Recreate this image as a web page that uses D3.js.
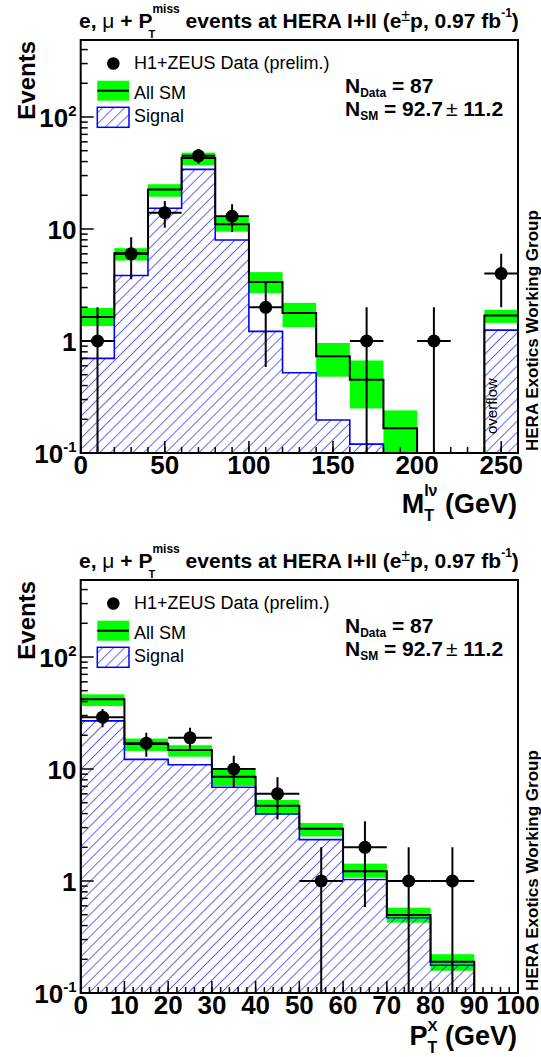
<!DOCTYPE html>
<html>
<head>
<meta charset="utf-8">
<script src="https://cdn.jsdelivr.net/npm/d3@7"></script>
<style>
  body { margin: 0; background: #fff; }
  svg { display: block; font-family: "Liberation Sans", Arial, Helvetica, sans-serif; }
  text { white-space: pre; }
</style>
</head>
<body>
<svg id="canvas" width="541" height="1057"></svg>
<script>
// ---- M_T (lepton-neutrino transverse mass), 20 GeV bins, last bin = overflow
const mtEdges = [0, 20, 40, 60, 80, 100, 120, 140, 160, 180, 200, 220, 240, 260];
const mtSM = [1.64, 6.08, 22.5, 43.0, 11.0, 3.36, 1.78, 0.73, 0.45, 0.166, 0, 0, 1.69];
const mtSMLow = [1.36, 5.23, 19.4, 37.1, 9.46, 2.68, 1.33, 0.48, 0.25, 0.09, 0, 0, 1.45];
const mtSMHigh = [1.97, 6.74, 25.1, 48.1, 12.7, 4.12, 2.19, 0.96, 0.67, 0.24, 0, 0, 1.9];
const mtSignal = [0.70, 3.85, 15.3, 34.1, 7.98, 1.22, 0.52, 0.197, 0.12, 0, 0, 0, 1.25];
const mtData = [1, 6, 14, 45, 13, 2, 0, 0, 1, 0, 1, 0, 4];
const mtMajorTicks = [0, 50, 100, 150, 200, 250];

// ---- P_T^X (hadronic transverse momentum), 10 GeV bins
const ptEdges = [0, 10, 20, 30, 40, 50, 60, 70, 80, 90];
const ptSM = [41.9, 16.7, 14.8, 8.54, 4.69, 2.93, 1.22, 0.497, 0.19];
const ptSMLow = [36.5, 14.5, 12.9, 7.06, 3.9, 2.5, 1.07, 0.425, 0.158];
const ptSMHigh = [46.4, 18.7, 16.3, 9.8, 5.3, 3.29, 1.43, 0.578, 0.222];
const ptSignal = [26.9, 12.2, 10.9, 6.88, 3.96, 2.34, 1.03, 0.47, 0.177];
const ptData = [29, 17, 19, 10, 6, 1, 2, 1, 1];
const ptMajorTicks = [0, 10, 20, 30, 40, 50, 60, 70, 80, 90, 100];

const yDomain = [0.1, 487];
const yLabels = [
  { v: 0.1, base: '10', sup: '-1' },
  { v: 1, base: '1', sup: '' },
  { v: 10, base: '10', sup: '' },
  { v: 100, base: '10', sup: '2' },
];

const TINY = 0.01;
const GREEN = '#00ff00';
const BLUE = '#0000ff';

const svg = d3.select('#canvas');

// hatch for the signal histogram
svg.append('defs').append('pattern')
  .attr('id', 'hatch')
  .attr('patternUnits', 'userSpaceOnUse')
  .attr('width', 7.8)
  .attr('height', 7.8)
  .attr('patternTransform', 'rotate(45)')
  .append('line')
  .attr('x1', 0).attr('y1', 0)
  .attr('x2', 0).attr('y2', 7.8)
  .attr('stroke', BLUE)
  .attr('stroke-width', 1.2);

// draws a run of text pieces (sub/superscripts) one after another
function richText(parent, x, y, parts, anchor = 'start') {
  const g = parent.append('g');
  let cursor = 0;
  let lastStart = 0;
  parts.forEach((p) => {
    const start = (p.stack ? lastStart : cursor) + (p.dx || 0);
    const t = g.append('text')
      .attr('x', start)
      .attr('y', p.dy || 0)
      .attr('font-size', p.size)
      .attr('font-weight', p.weight || 'bold')
      .attr('fill', '#000')
      .text(p.text);
    const w = t.node().getComputedTextLength();
    if (!p.stack) lastStart = start;
    cursor = Math.max(cursor, start + w);
  });
  let shift = 0;
  if (anchor === 'end') shift = -cursor;
  if (anchor === 'middle') shift = -cursor / 2;
  g.attr('transform', `translate(${x + shift},${y})`);
  return g;
}

function titleParts() {
  return [
    { text: 'e, ', size: 21 },
    { text: 'μ', size: 21, weight: 'normal' },
    { text: ' + P', size: 21 },
    { text: 'miss', size: 12, dy: -15 },
    { text: 'T', size: 11, dy: 10, stack: true, dx: -4 },
    { text: ' events at HERA I+II (e', size: 21 },
    { text: '±', size: 16, weight: 'normal', dy: -7 },
    { text: 'p, 0.97 fb', size: 21 },
    { text: '-1', size: 12, dy: -11 },
    { text: ')', size: 21 },
  ];
}

function drawPanel(cfg) {
  const top = cfg.offset + 40;
  const bottom = cfg.offset + 453;
  const left = 80.7;
  const right = 518;
  const n = cfg.sm.length;

  const x = d3.scaleLinear().domain(cfg.xDomain).range([left, right]);
  const y = d3.scaleLog().domain(yDomain).range([bottom, top]);
  const yv = v => y(Math.max(v, TINY));

  const g = svg.append('g');
  const clipId = `clip-${cfg.name}`;
  g.append('clipPath').attr('id', clipId)
    .append('rect')
    .attr('x', left).attr('y', top)
    .attr('width', right - left).attr('height', bottom - top);

  const plot = g.append('g').attr('clip-path', `url(#${clipId})`);
  const bins = d3.range(n).map(i => ({
    lo: cfg.edges[i],
    hi: cfg.edges[i + 1],
    sm: cfg.sm[i],
    smLo: cfg.smLow[i],
    smHi: cfg.smHigh[i],
    sig: cfg.signal[i],
    data: cfg.data[i],
  }));

  // SM uncertainty band
  plot.selectAll('.band')
    .data(bins.filter(d => d.smHi > 0))
    .enter().append('rect')
    .attr('class', 'band')
    .attr('x', d => x(d.lo))
    .attr('width', d => x(d.hi) - x(d.lo))
    .attr('y', d => yv(d.smHi))
    .attr('height', d => yv(d.smLo) - yv(d.smHi))
    .attr('fill', GREEN);

  const stepPoints = key => [
    { x: bins[0].lo, v: TINY },
    ...bins.map(d => ({ x: d.lo, v: d[key] })),
    { x: bins[n - 1].hi, v: bins[n - 1][key] },
    { x: bins[n - 1].hi, v: TINY },
  ];

  // signal: hatched area + blue outline
  const sigArea = d3.area()
    .curve(d3.curveStepAfter)
    .x(d => x(d.x))
    .y0(bottom + 5)
    .y1(d => yv(d.v));
  plot.append('path')
    .datum(stepPoints('sig'))
    .attr('d', sigArea)
    .attr('fill', 'url(#hatch)');

  const stepLine = d3.line()
    .curve(d3.curveStepAfter)
    .x(d => x(d.x))
    .y(d => yv(d.v));
  plot.append('path')
    .datum(stepPoints('sig'))
    .attr('d', stepLine)
    .attr('fill', 'none')
    .attr('stroke', BLUE)
    .attr('stroke-width', 1.6);

  // all SM
  plot.append('path')
    .datum(stepPoints('sm'))
    .attr('d', stepLine)
    .attr('fill', 'none')
    .attr('stroke', '#000')
    .attr('stroke-width', 2);

  // data points
  const pts = plot.selectAll('.pt')
    .data(bins.filter(d => d.data > 0))
    .enter().append('g')
    .attr('class', 'pt');
  pts.append('line')
    .attr('x1', d => x(d.lo)).attr('x2', d => x(d.hi))
    .attr('y1', d => yv(d.data)).attr('y2', d => yv(d.data))
    .attr('stroke', '#000').attr('stroke-width', 2);
  pts.append('line')
    .attr('x1', d => x((d.lo + d.hi) / 2)).attr('x2', d => x((d.lo + d.hi) / 2))
    .attr('y1', d => yv(d.data + Math.sqrt(d.data)))
    .attr('y2', d => yv(d.data - Math.sqrt(d.data)))
    .attr('stroke', '#000').attr('stroke-width', 2);
  pts.append('circle')
    .attr('cx', d => x((d.lo + d.hi) / 2))
    .attr('cy', d => yv(d.data))
    .attr('r', 6.5)
    .attr('fill', '#000');

  // frame
  g.append('rect')
    .attr('x', left).attr('y', top)
    .attr('width', right - left).attr('height', bottom - top)
    .attr('fill', 'none')
    .attr('stroke', '#000')
    .attr('stroke-width', 2);

  // y ticks (inward)
  const yMinor = [];
  [0.1, 1, 10, 100].forEach((dec) => {
    d3.range(2, 10).forEach((k) => {
      if (dec * k < yDomain[1]) yMinor.push(dec * k);
    });
  });
  g.selectAll('.yminor').data(yMinor).enter().append('line')
    .attr('x1', left).attr('x2', left + 7)
    .attr('y1', d => y(d)).attr('y2', d => y(d))
    .attr('stroke', '#000').attr('stroke-width', 1.5);
  g.selectAll('.ymajor').data(yLabels).enter().append('line')
    .attr('x1', left).attr('x2', left + 13)
    .attr('y1', d => y(d.v)).attr('y2', d => y(d.v))
    .attr('stroke', '#000').attr('stroke-width', 1.5);
  yLabels.forEach((d) => {
    const parts = [{ text: d.base, size: 26 }];
    if (d.sup) parts.push({ text: d.sup, size: 15, dy: -11 });
    richText(g, 76.5, y(d.v) + 9.5, parts, 'end');
  });

  // x ticks (inward)
  const xs = cfg.xDomain;
  g.selectAll('.xminor')
    .data(d3.range(xs[0], xs[1] + 0.001, cfg.minorStep))
    .enter().append('line')
    .attr('x1', d => x(d)).attr('x2', d => x(d))
    .attr('y1', bottom).attr('y2', bottom - 6)
    .attr('stroke', '#000').attr('stroke-width', 1.5);
  g.selectAll('.xmajor').data(cfg.majorTicks).enter().append('line')
    .attr('x1', d => x(d)).attr('x2', d => x(d))
    .attr('y1', bottom).attr('y2', bottom - 12)
    .attr('stroke', '#000').attr('stroke-width', 1.5);
  g.selectAll('.xlabel').data(cfg.majorTicks).enter().append('text')
    .attr('x', d => x(d))
    .attr('y', bottom + 21)
    .attr('text-anchor', 'middle')
    .attr('font-size', 26)
    .attr('font-weight', 'bold')
    .text(d => d);

  // axis titles
  richText(g, right - 1, cfg.xTitleY, cfg.xTitle, 'end');
  g.append('text')
    .attr('transform', `translate(34.5,${top + 1}) rotate(-90)`)
    .attr('text-anchor', 'end')
    .attr('font-size', 24)
    .attr('font-weight', 'bold')
    .text('Events');

  // title
  richText(g, 79, cfg.offset + 27.5, titleParts());

  // legend
  const lg = g.append('g').attr('transform', `translate(0,${cfg.offset})`);
  lg.append('circle').attr('cx', 113.3).attr('cy', 63.5).attr('r', 6.3).attr('fill', '#000');
  lg.append('rect').attr('x', 97.3).attr('y', 80.7).attr('width', 31.7).attr('height', 20)
    .attr('fill', GREEN);
  lg.append('line').attr('x1', 97.3).attr('x2', 129).attr('y1', 90.7).attr('y2', 90.7)
    .attr('stroke', '#000').attr('stroke-width', 2);
  lg.append('rect').attr('x', 97.3).attr('y', 107.3).attr('width', 31.7).attr('height', 20)
    .attr('fill', 'url(#hatch)')
    .attr('stroke', BLUE).attr('stroke-width', 1.5);
  [['H1+ZEUS Data (prelim.)', 68.8], ['All SM', 98.5], ['Signal', 122]].forEach(([t, yy]) => {
    lg.append('text')
      .attr('x', 134).attr('y', yy)
      .attr('font-size', 18)
      .text(t);
  });
  richText(lg, 345, 93, [
    { text: 'N', size: 21 },
    { text: 'Data', size: 12, dy: 4 },
    { text: ' = 87', size: 21 },
  ]);
  richText(lg, 345, 116, [
    { text: 'N', size: 21 },
    { text: 'SM', size: 12, dy: 4 },
    { text: ' = 92.7', size: 21 },
    { text: '±', size: 21, weight: 'normal', dx: 3 },
    { text: ' 11.2', size: 21 },
  ]);

  g.append('text')
    .attr('transform', `translate(538,${bottom - 2}) rotate(-90)`)
    .attr('font-size', 17)
    .attr('font-weight', 'bold')
    .text('HERA Exotics Working Group');

  if (cfg.overflow) {
    g.append('text')
      .attr('transform', `translate(497,${bottom - 19}) rotate(-90)`)
      .attr('font-size', 15)
      .text('overflow');
  }
}

drawPanel({
  name: 'mt',
  offset: 0,
  xDomain: [0, 260],
  edges: mtEdges,
  sm: mtSM,
  smLow: mtSMLow,
  smHigh: mtSMHigh,
  signal: mtSignal,
  data: mtData,
  majorTicks: mtMajorTicks,
  minorStep: 10,
  overflow: true,
  xTitleY: 513,
  xTitle: [
    { text: 'M', size: 27 },
    { text: 'lν', size: 16, dy: -17 },
    { text: 'T', size: 16, dy: 8, stack: true },
    { text: ' (GeV)', size: 27 },
  ],
});

drawPanel({
  name: 'pt',
  offset: 540,
  xDomain: [0, 100],
  edges: ptEdges,
  sm: ptSM,
  smLow: ptSMLow,
  smHigh: ptSMHigh,
  signal: ptSignal,
  data: ptData,
  majorTicks: ptMajorTicks,
  minorStep: 2,
  overflow: false,
  xTitleY: 1045,
  xTitle: [
    { text: 'P', size: 27 },
    { text: 'X', size: 15, dy: -14 },
    { text: 'T', size: 16, dy: 8, stack: true },
    { text: ' (GeV)', size: 27 },
  ],
});
</script>
</body>
</html>
